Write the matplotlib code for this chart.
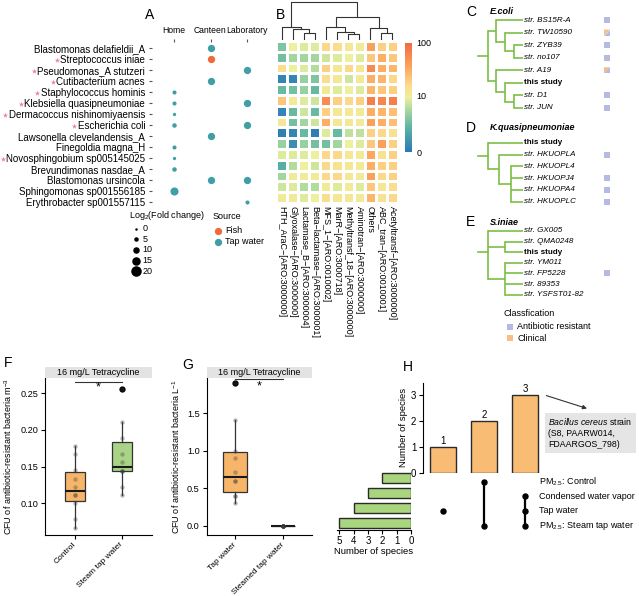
import numpy as np
import matplotlib
matplotlib.use("Agg")
import matplotlib.pyplot as plt
from matplotlib.colors import LinearSegmentedColormap
from matplotlib.patches import Polygon

plt.rcParams['font.family'] = ['Liberation Sans', 'DejaVu Sans']
plt.rcParams['mathtext.fontset'] = 'custom'
plt.rcParams['mathtext.rm'] = 'Liberation Sans'
plt.rcParams['mathtext.it'] = 'Liberation Sans:italic'
plt.rcParams['mathtext.bf'] = 'Liberation Sans:bold'
plt.rcParams['axes.linewidth'] = 0.8
plt.rcParams['xtick.major.width'] = 0.8
plt.rcParams['ytick.major.width'] = 0.8

# ---------------- data ----------------
# A: log2 fold change of species per site (None = not enriched)
species = ['Blastomonas delafieldii_A', 'Streptococcus iniae', 'Pseudomonas_A stutzeri',
           'Cutibacterium acnes', 'Staphylococcus hominis', 'Klebsiella quasipneumoniae',
           'Dermacoccus nishinomiyaensis', 'Escherichia coli', 'Lawsonella clevelandensis_A',
           'Finegoldia magna_H', 'Novosphingobium sp005145025', 'Brevundimonas nasdae_A',
           'Blastomonas ursincola', 'Sphingomonas sp001556185', 'Erythrobacter sp001557115']
pathogen = [False, True, True, True, True, True, True, True, False, False, True, False,
            False, False, False]
sites = ['Home', 'Canteen', 'Laboratory']
fc_home = [None, None, None, None, 4, 4, 2, 5, None, 4, 2, 5, None, 14, None]
fc_canteen = [12, 12, None, 12, None, None, None, None, 12, None, None, None, 12, None, None]
fc_lab = [None, None, 12, None, None, 12, None, 12, None, None, None, None, 12, None, 4]
source = ['Tap water', 'Fish', 'Tap water', 'Tap water', 'Tap water', 'Tap water', 'Tap water',
          'Tap water', 'Tap water', 'Tap water', 'Tap water', 'Tap water', 'Tap water',
          'Tap water', 'Tap water']
legend_sizes = [0, 5, 10, 15, 20]

# B: ARG abundance (log10 scale, 0..2) per species x ARG class
arg_classes = ['HTH_AraC\u2212[ARO:3000000]', 'Glyoxalase\u2212[ARO:3000000]',
               'Lactamase_B\u2212[ARO:3000004]', 'Beta\u2212lactamase\u2212[ARO:3000001]',
               'MFS_1\u2212[ARO:0010002]', 'MarR\u2212[ARO:3000718]',
               'Methyltransf_18\u2212[ARO:3000000]', 'Aminotran\u2212[ARO:3000000]', 'Others',
               'ABC_tran\u2212[ARO:0010001]', 'Acetyltransf\u2212[ARO:3000000]']
arg_abund = [
    [0.60, 1.00, 0.95, 0.95, 1.25, 1.20, 1.10, 1.05, 1.60, 1.30, 1.30],
    [0.55, 0.75, 0.75, 0.75, 0.90, 0.95, 1.00, 0.95, 1.35, 1.50, 1.35],
    [1.20, 1.00, 0.95, 0.80, 1.30, 1.10, 1.25, 1.10, 1.75, 1.50, 1.45],
    [0.10, 0.10, 0.70, 0.60, 1.20, 1.10, 0.90, 1.05, 1.50, 1.45, 1.25],
    [0.50, 0.55, 0.70, 0.50, 1.10, 0.95, 1.00, 0.95, 1.45, 1.35, 1.30],
    [1.35, 1.05, 0.95, 0.90, 1.75, 1.30, 1.25, 1.30, 1.85, 1.80, 1.85],
    [0.10, 0.50, 0.90, 0.50, 1.30, 1.10, 1.10, 1.05, 1.50, 1.45, 1.40],
    [1.10, 0.55, 0.75, 0.90, 1.50, 1.10, 1.10, 1.05, 1.60, 1.50, 1.40],
    [0.05, 0.10, 0.50, 0.05, 0.95, 0.50, 0.85, 0.85, 1.30, 1.25, 1.15],
    [0.70, 0.15, 0.70, 0.55, 0.55, 0.75, 1.00, 0.95, 1.35, 1.60, 1.30],
    [0.95, 0.95, 0.95, 1.00, 1.25, 1.25, 1.10, 1.05, 1.55, 1.15, 1.30],
    [0.40, 0.80, 1.00, 0.90, 1.25, 1.15, 1.10, 1.05, 1.50, 1.30, 1.30],
    [0.75, 1.05, 1.05, 1.05, 1.25, 1.25, 1.10, 1.05, 1.60, 1.25, 1.30],
    [0.90, 0.95, 0.80, 0.80, 1.05, 0.95, 1.05, 0.95, 1.35, 1.10, 1.20],
    [1.05, 1.05, 0.95, 1.00, 1.20, 1.10, 1.10, 1.05, 1.45, 1.15, 1.25],
]
# column dendrogram: (height, left, right), leaves are column indices
arg_tree = (1.0, (0.34, 0, (0.30, 1, (0.195, 2, 3))),
            (0.60, (0.33, 4, (0.22, 5, (0.16, 6, 7))), (0.31, 8, (0.195, 9, 10))))

# C-E: phylogenetic trees + classification
tree_c = [['str. BS15R-A', ['str. TW10590', ['str. ZYB39', 'str. no107']]],
          ['str. A19', ['this study', ['str. D1', 'str. JUN']]]]
class_c = {'str. BS15R-A': 'AR', 'str. TW10590': 'both', 'str. ZYB39': 'AR',
           'str. no107': 'AR', 'str. A19': 'both', 'str. D1': 'AR', 'str. JUN': 'AR'}
tree_d = ['this study', ['str. HKUOPLA', ['str. HKUOPL4', 'str. HKUOPJ4', 'str. HKUOPA4',
                                          'str. HKUOPLC']]]
class_d = {'str. HKUOPLA': 'AR', 'str. HKUOPJ4': 'AR', 'str. HKUOPA4': 'AR',
           'str. HKUOPLC': 'AR'}
tree_e = ['str. GX005', ['str. QMA0248', 'this study'],
          ['str. YM011', 'str. FP5228', 'str. 89353', 'str. YSFST01-82']]
class_e = {'str. FP5228': 'AR'}

# F, G: CFU of antibiotic-resistant bacteria
f_groups = ['Control', 'Steam tap water']
f_control = [0.066, 0.078, 0.100, 0.111, 0.111, 0.122, 0.133, 0.145, 0.167, 0.178]
f_steam = [0.111, 0.122, 0.144, 0.144, 0.144, 0.156, 0.167, 0.189, 0.211, 0.256]
g_groups = ['Tap water', 'Steamed tap water']
g_tap = [0.30, 0.40, 0.40, 0.60, 0.60, 0.71, 0.91, 1.00, 1.41, 1.91]
g_steamed = [0.0, 0.0, 0.0, 0.0, 0.0, 0.0, 0.0, 0.0, 0.0, 0.0]

# H: upset plot
set_names = ['PM$_{2.5}$: Control', 'Condensed water vapor', 'Tap water',
             'PM$_{2.5}$: Steam tap water']
set_sizes = [2, 3, 4, 5]
inter_counts = [1, 2, 3]
inter_members = [[2], [0, 3], [1, 2, 3]]

# ---------------- figure ----------------
W, H = 639, 596
fig = plt.figure(figsize=(W / 100, H / 100), dpi=100)


def px_axes(x0, y0, x1, y1, **kw):
    return fig.add_axes([x0 / W, 1 - y1 / H, (x1 - x0) / W, (y1 - y0) / H], **kw)


def ftext(x, y, s, **kw):
    return fig.text(x / W, 1 - y / H, s, **kw)


lay = px_axes(0, 0, W, H)
lay.set_xlim(0, W)
lay.set_ylim(H, 0)
lay.axis('off')

TAP = '#3f9ea6'
FISH = '#f0693a'
src_col = {'Tap water': TAP, 'Fish': FISH}


def dot_s(v):
    return ((2.5 + 0.4 * v) * 0.72) ** 2


# ---- A ----
axA = px_axes(152, 41.7, 269, 208.3)
for j, vals in enumerate([fc_home, fc_canteen, fc_lab]):
    for i, v in enumerate(vals):
        if v is None:
            continue
        axA.scatter(j, i, s=dot_s(v), color=src_col[source[i]], lw=0)
axA.set_xlim(-0.6, 2.6)
axA.set_ylim(14.6, -0.6)
axA.set_xticks(range(3))
axA.set_xticklabels(sites, fontsize=6.2)
axA.xaxis.tick_top()
axA.set_yticks(range(len(species)))
axA.set_yticklabels(species, fontsize=7)
axA.tick_params(length=2, pad=3, color='#555555')
for sp in axA.spines.values():
    sp.set_visible(False)
axA.patch.set_alpha(0)

# legend A
ftext(129, 216, r'Log$_2$(Fold change)', fontsize=6.5, va='center')
for k, v in enumerate(legend_sizes):
    yy = 228.7 + k * 10.6
    lay.scatter(136, yy, s=dot_s(v), color='black', lw=0)
    ftext(142.5, yy, str(v), fontsize=6.5, va='center')
ftext(213, 216.7, 'Source', fontsize=6.5, va='center')
for k, name in enumerate(['Fish', 'Tap water']):
    yy = 230.7 + k * 11.3
    lay.scatter(217.5, yy, s=dot_s(12), color=src_col[name], lw=0)
    ftext(225, yy, name, fontsize=6.5, va='center')

# ---- B heatmap ----
cmap = LinearSegmentedColormap.from_list('arg', [
    (0.00, '#2a78b8'), (0.22, '#5bb3a3'), (0.38, '#a5d7a0'), (0.50, '#eef09c'),
    (0.62, '#fcd98c'), (0.78, '#fca45c'), (1.00, '#f26a43')])
vmax = np.log10(101)
axB = px_axes(276, 41, 398, 203)
mesh = axB.pcolormesh(np.array(arg_abund), cmap=cmap, vmin=0, vmax=vmax,
                      edgecolors='white', linewidth=0.8)
axB.set_xlim(0, len(arg_classes))
axB.set_ylim(len(species), 0)
axB.set_xticks(np.arange(len(arg_classes)) + 0.5)
axB.set_xticklabels(arg_classes, rotation=270, fontsize=6.5)
axB.set_yticks([])
axB.tick_params(length=0, pad=2)
for sp in axB.spines.values():
    sp.set_visible(False)

axD = px_axes(276, 1, 398, 40)


def draw_dendro(node):
    if isinstance(node, int):
        return node + 0.5, 0.0
    h, left, right = node
    xl, hl = draw_dendro(left)
    xr, hr = draw_dendro(right)
    axD.plot([xl, xl, xr, xr], [hl, h, h, hr], color='#333333', lw=0.8)
    return (xl + xr) / 2, h


draw_dendro(arg_tree)
axD.set_xlim(0, len(arg_classes))
axD.set_ylim(0, 1.02)
axD.axis('off')

cax = px_axes(405, 43, 412, 152)
cb = fig.colorbar(mesh, cax=cax, ticks=[0, np.log10(11), vmax])
cb.ax.set_yticklabels(['0', '10', '100'], fontsize=6.5)
cb.ax.tick_params(length=0, pad=3)
cb.outline.set_visible(False)

# ---- C, D, E trees ----
TREE_GREEN = '#7bbf45'
AR_COL = '#b5bbe0'
CLIN_COL = '#f6bd85'
ROOT_X, TIP_X, BOX_X = 487.5, 523, 607


def tree_depth(node):
    if isinstance(node, str):
        return 0
    return 1 + max(tree_depth(c) for c in node)


def draw_tree(tree, classes, first_y, step):
    leaves = []

    def count(node):
        return 1 if isinstance(node, str) else sum(count(c) for c in node)

    n = count(tree)
    ax = px_axes(465, first_y - step / 2, 630, first_y + (n - 0.5) * step)
    ax.set_xlim(465, 630)
    ax.set_ylim(n - 0.5, -0.5)
    ax.axis('off')
    maxd = tree_depth(tree)
    dx = (TIP_X - ROOT_X) / maxd

    def rec(node, d):
        if isinstance(node, str):
            leaves.append(node)
            return len(leaves) - 1, TIP_X
        x = ROOT_X + d * dx
        ys = []
        for ch in node:
            yc, xc = rec(ch, d + 1)
            ax.plot([x, xc], [yc, yc], color=TREE_GREEN, lw=1.2, solid_capstyle='butt')
            ys.append(yc)
        ax.plot([x, x], [min(ys), max(ys)], color=TREE_GREEN, lw=1.2,
                solid_capstyle='projecting')
        return np.mean(ys), x

    yr, xr = rec(tree, 0)
    ax.plot([ROOT_X - 10, xr], [yr, yr], color=TREE_GREEN, lw=1.2)
    hx, hy = 3.0, 3.0 / step
    for i, name in enumerate(leaves):
        if name == 'this study':
            ax.text(TIP_X + 1, i, name, fontsize=5.8, fontweight='bold', va='center')
        else:
            ax.text(TIP_X + 1, i, name, fontsize=5.8, style='italic', va='center')
        cls = classes.get(name)
        if cls is None:
            continue
        sq = [(BOX_X - hx, i - hy), (BOX_X + hx, i - hy), (BOX_X + hx, i + hy), (BOX_X - hx, i + hy)]
        if cls == 'AR':
            ax.add_patch(Polygon(sq, closed=True, fc=AR_COL, ec='none'))
        else:
            ax.add_patch(Polygon([sq[0], sq[1], sq[3]], closed=True, fc=CLIN_COL, ec='none'))
            ax.add_patch(Polygon([sq[1], sq[2], sq[3]], closed=True, fc=AR_COL, ec='none'))


draw_tree(tree_c, class_c, 20, 12.57)
draw_tree(tree_d, class_d, 143, 11.74)
draw_tree(tree_e, class_e, 231, 10.6)
for letter, title, yy in [('C', 'E.coli', 12), ('D', 'K.quasipneumoniae', 128),
                          ('E', 'S.iniae', 222)]:
    ftext(466, yy, letter, fontsize=10, va='center')
    ftext(490, yy, title, fontsize=6.5, fontweight='bold', style='italic', va='center')

ftext(503, 314, 'Classfication', fontsize=6.5, va='center')
for k, (name, col) in enumerate([('Antibiotic resistant', AR_COL), ('Clinical', CLIN_COL)]):
    yy = 326.7 + k * 11.5
    lay.scatter(509.5, yy, marker='s', s=22, color=col, lw=0)
    ftext(517, yy, name, fontsize=6.5, va='center')


# ---- F, G boxplots ----
def box_panel(ax, groups, colors, width):
    bp = ax.boxplot(groups, positions=range(len(groups)), widths=width, patch_artist=True,
                    showcaps=False,
                    medianprops=dict(color='#1a1a1a', lw=1.5),
                    boxprops=dict(edgecolor='#333333', lw=0.9),
                    whiskerprops=dict(color='#333333', lw=0.9),
                    flierprops=dict(marker='o', markerfacecolor='black',
                                    markeredgecolor='black', markersize=3.5))
    for patch, c in zip(bp['boxes'], colors):
        patch.set_facecolor(c)
    for i, g in enumerate(groups):
        ax.scatter(np.full(len(g), i), g, s=10, color='#3a3a3a', alpha=0.35, lw=0, zorder=3)
    ax.spines['top'].set_visible(False)
    ax.spines['right'].set_visible(False)
    ax.tick_params(length=3, labelsize=6.6, pad=2)


def strip(x0, x1):
    sa = px_axes(x0, 367, x1, 378)
    sa.set_facecolor('#e3e3e3')
    sa.set_xticks([])
    sa.set_yticks([])
    for sp in sa.spines.values():
        sp.set_visible(False)
    sa.text(0.5, 0.5, '16 mg/L Tetracycline', fontsize=6.5, ha='center', va='center',
            transform=sa.transAxes)


def rot_labels(ax, labels):
    ax.set_xticks(range(len(labels)))
    ax.set_xticklabels(labels, rotation=45, ha='right', va='center', rotation_mode='anchor',
                       fontsize=6.0)
    ax.tick_params(axis='x', pad=3)


axF = px_axes(45, 378, 152, 535)
box_panel(axF, [f_control, f_steam], ['#f7b56a', '#a9d487'], 0.42)
axF.set_xlim(-0.64, 1.64)
axF.set_ylim(0.0568, 0.2708)
axF.set_yticks([0.10, 0.15, 0.20, 0.25])
axF.set_yticklabels(['0.10', '0.15', '0.20', '0.25'])
rot_labels(axF, f_groups)
axF.set_ylabel(r'CFU of antibiotic-resistant bacteria m$^{-3}$', fontsize=6.5)
axF.yaxis.set_label_coords(-0.29, 0.5)
axF.plot([0, 1], [0.2655, 0.2655], color='#333333', lw=0.8, clip_on=False)
axF.text(0.5, 0.2575, '*', ha='center', va='center', fontsize=9)
strip(45, 152)

axG = px_axes(206.7, 378, 312, 535)
box_panel(axG, [g_tap, g_steamed], ['#f7b56a', '#f7b56a'], 0.5)
axG.set_xlim(-0.586, 1.594)
axG.set_ylim(-0.124, 1.971)
axG.set_yticks([0.0, 0.5, 1.0, 1.5])
axG.set_yticklabels(['0.0', '0.5', '1.0', '1.5'])
rot_labels(axG, g_groups)
axG.set_ylabel(r'CFU of antibiotic-resistant bacteria L$^{-1}$', fontsize=6.5)
axG.yaxis.set_label_coords(-0.235, 0.5)
axG.plot([0, 1], [1.953, 1.953], color='#333333', lw=0.8, clip_on=False)
axG.text(0.5, 1.86, '*', ha='center', va='center', fontsize=9)
strip(206.7, 312)

# ---- H upset ----
axHt = px_axes(422.5, 383, 545.5, 472.7)
axHt.bar(range(len(inter_counts)), inter_counts, width=0.61, color='#f8bc74',
         edgecolor='#2b2b2b', lw=1)
for i, v in enumerate(inter_counts):
    axHt.text(i, v + 0.03, str(v), ha='center', va='bottom', fontsize=7)
axHt.set_xlim(-0.5, 2.5)
axHt.set_ylim(0, 3.46)
axHt.set_xticks([])
axHt.set_yticks([0, 1, 2, 3])
for s in ['top', 'right', 'bottom']:
    axHt.spines[s].set_visible(False)
axHt.tick_params(length=3, labelsize=7, pad=1.5)
axHt.set_ylabel('Number of species', fontsize=6.8, labelpad=2)

axHm = px_axes(422.5, 474.3, 545.5, 533)
for j, rows in enumerate(inter_members):
    if len(rows) > 1:
        axHm.plot([j, j], [min(rows), max(rows)], color='black', lw=1.6)
    axHm.scatter([j] * len(rows), rows, s=13, color='black', zorder=3)
axHm.set_xlim(-0.5, 2.5)
axHm.set_ylim(3.5, -0.5)
axHm.axis('off')
for i, name in enumerate(set_names):
    axHm.text(2.35, i, name, va='center', ha='left', fontsize=6.5)

axHl = px_axes(337, 471, 411, 530)
axHl.barh(range(len(set_sizes)), set_sizes, height=0.68, color='#a9d57f',
          edgecolor='#2b2b2b', lw=1)
axHl.set_xlim(5.15, 0)
axHl.set_ylim(3.5, -0.5)
axHl.set_yticks([])
axHl.set_xticks(range(6))
for s in ['top', 'right', 'left']:
    axHl.spines[s].set_visible(False)
axHl.tick_params(length=3, labelsize=7, pad=1)
axHl.set_xlabel('Number of species', fontsize=6.8, labelpad=1)

ftext(548.5, 416, '$\\mathit{Bacillus}$ $\\mathit{cereus}$ strain\n(S8, PAARW014,\nFDAARGOS_798)',
      fontsize=6.3, va='top', ha='left', linespacing=1.3,
      bbox=dict(boxstyle='square,pad=0.4', fc='#e5e5e5', ec='none'))
lay.annotate('', xy=(587, 408.5), xytext=(532, 391),
             arrowprops=dict(arrowstyle='-|>', color='#333333', lw=0.8, mutation_scale=6,
                             shrinkA=0, shrinkB=0))

# panel letters
for letter, x, y in [('A', 145, 15), ('B', 276, 15), ('F', 4, 363), ('G', 182, 365),
                     ('H', 403, 367)]:
    ftext(x, y, letter, fontsize=10, va='center')

# pink star markers before pathogen names
fig.canvas.draw()
renderer = fig.canvas.get_renderer()
for lab, flag in zip(axA.get_yticklabels(), pathogen):
    if not flag:
        continue
    bb = lab.get_window_extent(renderer)
    lay.scatter(bb.x0 - 3.5, H - (bb.y0 + bb.y1) / 2, marker='*', s=16, color='#f07fa2',
                lw=0)

fig.savefig('out.png', dpi=100)
